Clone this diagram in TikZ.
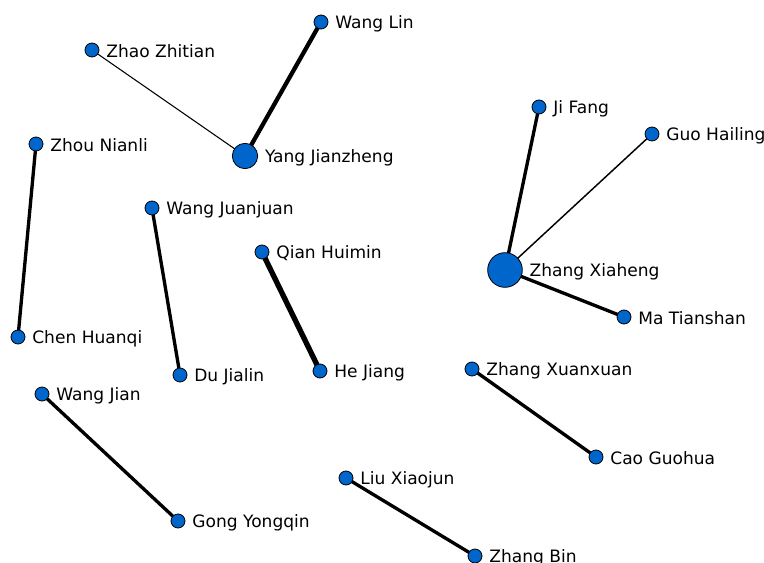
\documentclass[tikz,border=0pt]{standalone}
\usepackage{fontspec}
\setmainfont{DejaVu Sans}
\definecolor{nodeblue}{RGB}{0,102,204}
\begin{document}
\begin{tikzpicture}[x=0.75pt,y=-0.75pt,inner sep=0pt,outer sep=0pt,
person/.style={draw,circle,fill=nodeblue,line width=0.6pt,minimum size=10.5pt,
  label={[lbl]right:#1}},
hub/.style={person=#1,minimum size=19pt},
bighub/.style={person=#1,minimum size=26pt},
lbl/.style={font=\fontsize{12.8}{15}\selectfont,label distance=5.5pt,inner sep=0pt,yshift=-1pt},
tie/.style={line width=2.5pt},
strongtie/.style={line width=3.2pt},
weaktie/.style={line width=0.8pt}]
\useasboundingbox (0,0) rectangle (764,563);
% people
\node[hub=Yang Jianzheng] (yang) at (245,156) {};
\node[person=Wang Lin] (wanglin) at (321,22) {};
\node[person=Zhao Zhitian] (zhao) at (92,50) {};
\node[person=Zhou Nianli] (zhou) at (36,144) {};
\node[person=Chen Huanqi] (chen) at (18,337) {};
\node[person=Wang Juanjuan] (juanjuan) at (152,208) {};
\node[person=Du Jialin] (du) at (180,375) {};
\node[person=Qian Huimin] (qian) at (262,252) {};
\node[person=He Jiang] (he) at (320,371) {};
\node[person=Wang Jian] (wangjian) at (42,394) {};
\node[person=Gong Yongqin] (gong) at (178,521) {};
\node[person=Liu Xiaojun] (liu) at (346,478) {};
\node[person=Zhang Bin] (zhangbin) at (475,556) {};
\node[bighub=Zhang Xiaheng] (xiaheng) at (505,270) {};
\node[person=Ji Fang] (jifang) at (539,107) {};
\node[person=Guo Hailing] (guo) at (652,134) {};
\node[person=Ma Tianshan] (ma) at (624,317) {};
\node[person=Zhang Xuanxuan] (xuanxuan) at (472,369) {};
\node[person=Cao Guohua] (cao) at (596,457) {};
% ties
\draw[strongtie] (yang) -- (wanglin);
\draw[weaktie] (yang) -- (zhao);
\draw[tie] (zhou) -- (chen);
\draw[tie] (juanjuan) -- (du);
\draw[line width=4pt] (qian) -- (he);
\draw[tie] (wangjian) -- (gong);
\draw[tie] (liu) -- (zhangbin);
\draw[tie] (xiaheng) -- (jifang);
\draw[line width=1.1pt] (xiaheng) -- (guo);
\draw[tie] (xiaheng) -- (ma);
\draw[tie] (xuanxuan) -- (cao);
\end{tikzpicture}
\end{document}
